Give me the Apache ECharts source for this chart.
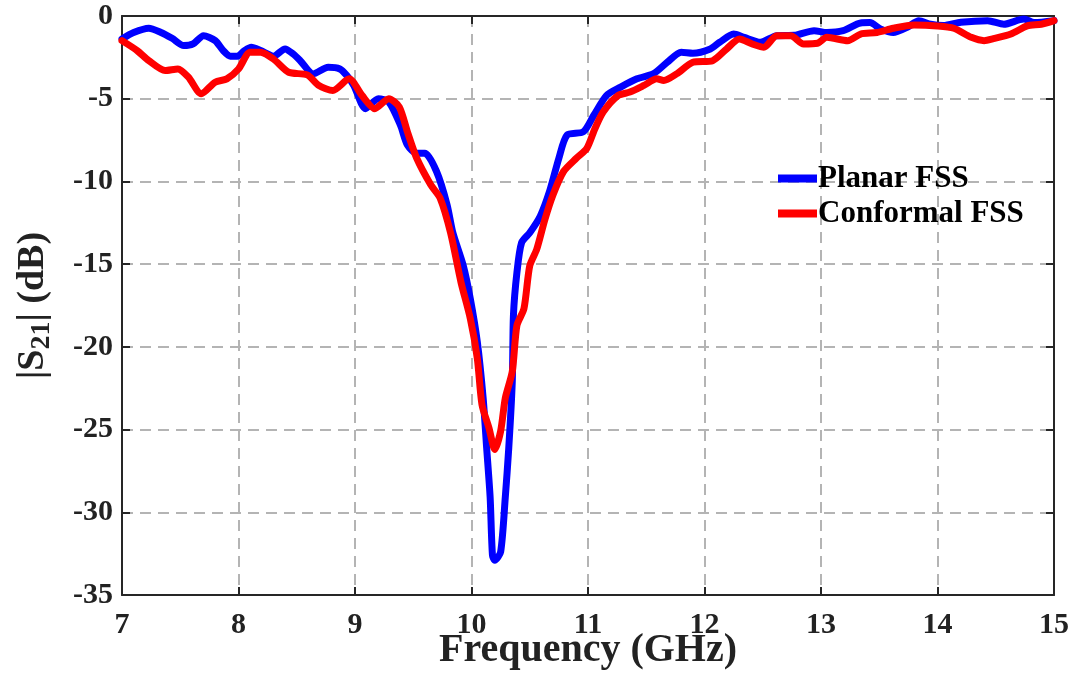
<!DOCTYPE html>
<html>
<head>
<meta charset="utf-8">
<script src="https://cdn.jsdelivr.net/npm/echarts@6/dist/echarts.min.js"></script>
<style>html,body{margin:0;padding:0;background:#fff;}#c{width:1076px;height:676px;}</style>
</head>
<body>
<div id="c"></div>
<script>
const planarFreq = [7.00,7.10,7.23,7.33,7.43,7.53,7.61,7.70,7.80,7.87,7.93,7.99,8.05,8.11,8.19,8.30,8.40,8.47,8.53,8.64,8.77,8.87,8.93,8.99,9.09,9.20,9.29,9.39,9.45,9.53,9.60,9.70,9.79,9.84,9.93,9.99,10.05,10.10,10.13,10.16,10.18,10.20,10.25,10.29,10.32,10.35,10.36,10.39,10.43,10.50,10.59,10.67,10.75,10.82,10.96,11.05,11.16,11.28,11.42,11.56,11.68,11.80,11.90,12.05,12.13,12.25,12.34,12.48,12.62,12.77,12.94,13.05,13.19,13.34,13.42,13.51,13.62,13.74,13.84,13.94,14.05,14.20,14.43,14.57,14.74,14.83,15.00];
const planarS21 = [-1.39,-1.0,-0.74,-0.98,-1.35,-1.79,-1.69,-1.19,-1.49,-2.1,-2.43,-2.43,-2.1,-1.89,-2.09,-2.43,-1.99,-2.3,-2.7,-3.5,-3.1,-3.2,-3.6,-4.2,-5.6,-5.0,-5.2,-6.6,-7.8,-8.3,-8.3,-9.4,-11.4,-13.1,-15.1,-17.1,-19.7,-23.1,-26.1,-29.1,-32.6,-32.9,-32.4,-29.1,-26.1,-22.1,-18.1,-15.5,-13.7,-13.1,-12.1,-10.6,-8.6,-7.2,-7.0,-6.0,-4.8,-4.3,-3.8,-3.5,-2.8,-2.19,-2.25,-1.99,-1.59,-1.09,-1.29,-1.59,-1.19,-1.17,-0.89,-1.0,-0.89,-0.42,-0.4,-0.78,-1.0,-0.68,-0.28,-0.5,-0.58,-0.38,-0.28,-0.5,-0.18,-0.4,-0.28];
const conformalFreq = [7.00,7.13,7.23,7.37,7.48,7.57,7.68,7.80,7.90,8.00,8.10,8.19,8.30,8.43,8.59,8.69,8.81,8.95,9.06,9.17,9.29,9.38,9.45,9.53,9.65,9.73,9.82,9.91,9.99,10.05,10.09,10.15,10.20,10.25,10.29,10.35,10.39,10.45,10.50,10.56,10.63,10.70,10.79,10.90,10.99,11.06,11.13,11.26,11.36,11.48,11.59,11.65,11.76,11.90,12.07,12.19,12.30,12.41,12.51,12.62,12.74,12.85,12.97,13.05,13.23,13.34,13.48,13.62,13.80,14.00,14.14,14.29,14.40,14.48,14.63,14.77,14.89,15.00];
const conformalS21 = [-1.49,-2.09,-2.7,-3.3,-3.2,-3.7,-4.7,-4.0,-3.8,-3.2,-2.19,-2.19,-2.6,-3.4,-3.56,-4.2,-4.5,-3.8,-4.8,-5.6,-5.0,-5.5,-7.0,-8.6,-10.2,-11.0,-13.1,-16.1,-18.3,-20.7,-23.5,-24.9,-26.2,-25.1,-23.1,-21.5,-18.7,-17.7,-15.1,-14.1,-12.3,-10.8,-9.4,-8.6,-8.0,-6.8,-5.8,-4.8,-4.6,-4.2,-3.8,-3.9,-3.5,-2.8,-2.7,-1.99,-1.39,-1.69,-1.89,-1.19,-1.19,-1.69,-1.65,-1.29,-1.49,-1.09,-1.0,-0.74,-0.54,-0.6,-0.74,-1.29,-1.49,-1.37,-1.09,-0.6,-0.5,-0.28];
const seriesNames = ['Planar FSS', 'Conformal FSS'];

const pairs = (xs, ys) => xs.map((x, i) => [x, ys[i]]);
const font = 'Liberation Serif';
const gridLine = {show: true, lineStyle: {color: '#b4b4b4', width: 2, type: [11, 7]}};
const frame = {show: true, onZero: false, lineStyle: {color: '#262626', width: 2}};
const tick = {show: true, inside: true, length: 8, lineStyle: {color: '#262626', width: 2}};

const chart = echarts.init(document.getElementById('c'), null, {renderer: 'canvas'});
chart.setOption({
  animation: false,
  backgroundColor: '#ffffff',
  grid: {left: 122, right: 22, top: 16, bottom: 81, containLabel: false, outerBoundsMode: 'none'},
  legend: {
    data: seriesNames,
    orient: 'vertical',
    left: 773, top: 158,
    icon: 'rect',
    itemWidth: 39, itemHeight: 8,
    itemGap: 4,
    textStyle: {fontFamily: font, fontWeight: 'bold', fontSize: 31, color: '#000', padding: [0,0,0,-4]}
  },
  xAxis: [{
    type: 'value', min: 7, max: 15, interval: 1, position: 'bottom',
    name: 'Frequency (GHz)', nameLocation: 'middle', nameGap: 36, nameMoveOverlap: false,
    nameTextStyle: {fontFamily: font, fontWeight: 'bold', fontSize: 40, color: '#222'},
    axisLine: frame, axisTick: tick,
    axisLabel: {fontFamily: font, fontWeight: 'bold', fontSize: 30, color: '#222', margin: 15},
    splitLine: gridLine
  }, {
    type: 'value', min: 7, max: 15, interval: 1, position: 'top',
    axisLine: frame, axisTick: tick,
    axisLabel: {show: false}, splitLine: {show: false}
  }],
  yAxis: [{
    type: 'value', min: -35, max: 0, interval: 5, position: 'left',
    name: '|S{sub|21}| (dB)', nameLocation: 'middle', nameGap: 66, nameMoveOverlap: false,
    nameTextStyle: {fontFamily: font, fontWeight: 'bold', fontSize: 38, color: '#222',
      rich: {sub: {fontFamily: font, fontWeight: 'bold', fontSize: 28, color: '#222', verticalAlign: 'bottom', padding: [18, 0, 0, 0]}}},
    axisLine: frame, axisTick: tick,
    axisLabel: {fontFamily: font, fontWeight: 'bold', fontSize: 30, color: '#222', margin: 9},
    splitLine: gridLine
  }, {
    type: 'value', min: -35, max: 0, interval: 5, position: 'right',
    axisLine: frame, axisTick: tick,
    axisLabel: {show: false}, splitLine: {show: false}
  }],
  series: [{
    name: seriesNames[0], type: 'line', data: pairs(planarFreq, planarS21),
    showSymbol: false, smooth: 0.25, color: '#0000ff',
    lineStyle: {color: '#0000ff', width: 7, join: 'round', cap: 'round'}
  }, {
    name: seriesNames[1], type: 'line', data: pairs(conformalFreq, conformalS21),
    showSymbol: false, smooth: 0.25, color: '#ff0000',
    lineStyle: {color: '#ff0000', width: 7, join: 'round', cap: 'round'}
  }]
});
</script>
</body>
</html>
